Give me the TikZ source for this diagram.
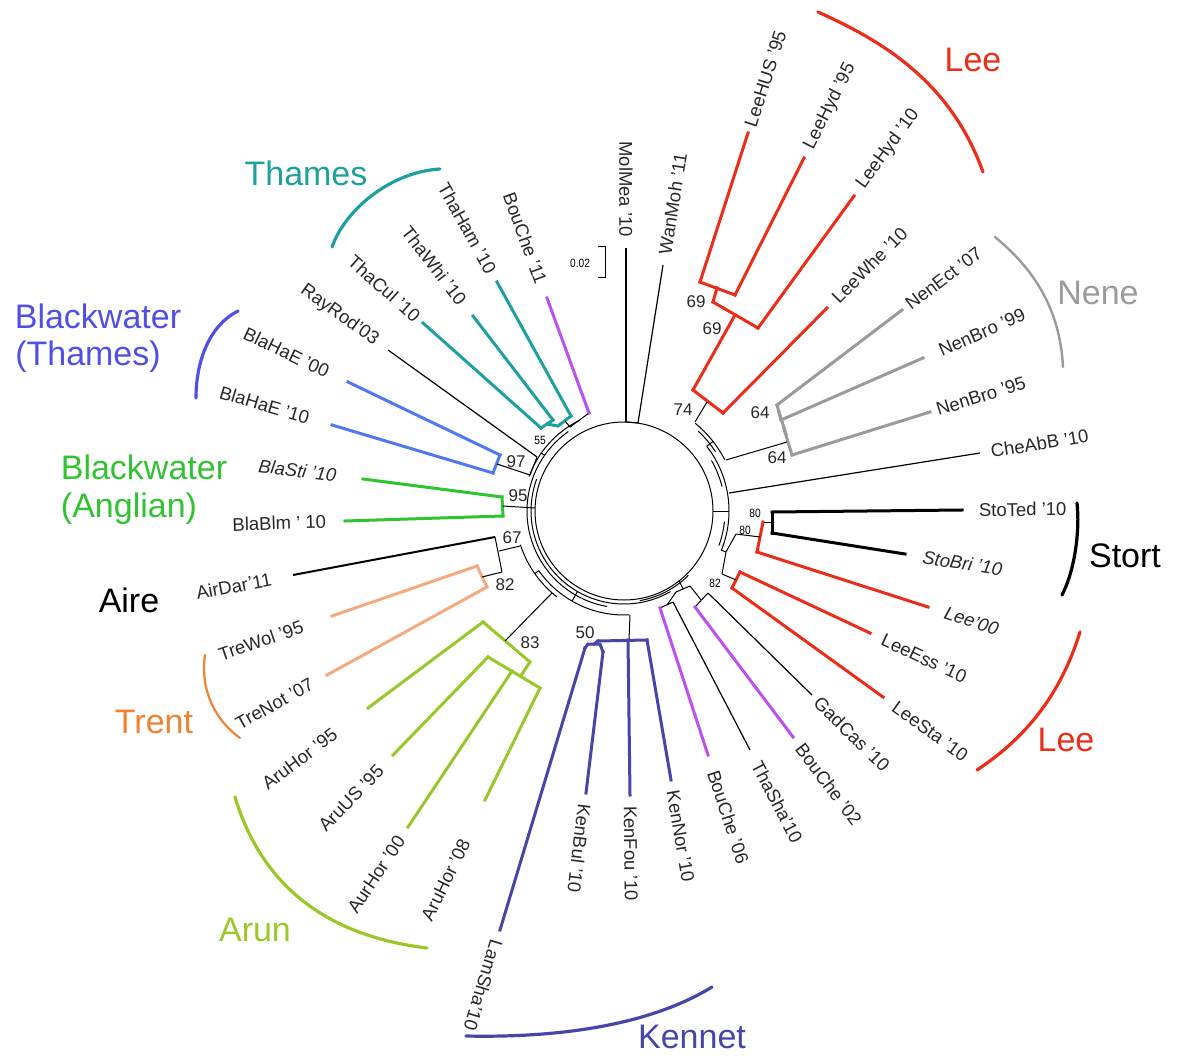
\documentclass[tikz,border=0pt]{standalone}
\usepackage{fontspec}
\setmainfont{Liberation Sans}
\begin{document}
% river clade colours
\definecolor{leeRed}{RGB}{235,45,25}
\definecolor{neneGray}{RGB}{155,155,155}
\definecolor{kenBlue}{RGB}{70,70,170}
\definecolor{bouMag}{RGB}{190,80,240}
\definecolor{arunGreen}{RGB}{155,200,40}
\definecolor{trentLine}{RGB}{245,170,130}
\definecolor{trentText}{RGB}{240,130,50}
\definecolor{anglGreen}{RGB}{50,195,50}
\definecolor{bwtLine}{RGB}{80,120,240}
\definecolor{bwtText}{RGB}{80,80,230}
\definecolor{thaTeal}{RGB}{30,160,160}
\definecolor{lblGray}{RGB}{40,40,40}
\tikzset{
  br/.style={draw=black, line width=1pt},
  thick leaf/.style={line width=3pt, line cap=rect},
  leeleaf/.style={thick leaf, draw=leeRed},
  neneleaf/.style={thick leaf, draw=neneGray},
  kenleaf/.style={thick leaf, draw=kenBlue},
  bouleaf/.style={thick leaf, draw=bouMag},
  arunleaf/.style={thick leaf, draw=arunGreen},
  trentleaf/.style={thick leaf, draw=trentLine},
  anglleaf/.style={thick leaf, draw=anglGreen},
  bwtleaf/.style={thick leaf, draw=bwtLine},
  thaleaf/.style={thick leaf, draw=thaTeal},
  stortleaf/.style={thick leaf, draw=black},
  aireleaf/.style={draw=black, line width=2pt},
  blkleaf/.style={draw=black, line width=1.2pt},
  leaflbl/.style={font=\fontsize{18.5}{20}\selectfont, text=lblGray, inner sep=1pt, outer sep=10pt},
  boot/.style={font=\fontsize{17}{19}\selectfont, text=lblGray, inner sep=0pt},
  bootsm/.style={font=\fontsize{12}{14}\selectfont, text=black, inner sep=0pt, xscale=0.85},
  cladearc/.style={line width=3.2pt, line cap=round},
  cladelbl/.style={font=\fontsize{34}{38}\selectfont, inner sep=0pt},
}
% leaf reading outward (label beyond the tip)
\newcommand{\leafR}[5][]{\draw[#2] #3 -- #4 node[leaflbl, pos=1, sloped, allow upside down, anchor=west, #1] {#5};}
% leaf reading inward (label ends at the tip)
\newcommand{\leafL}[5][]{\draw[#2] #4 -- #3 node[leaflbl, pos=0, sloped, allow upside down, anchor=east, #1] {#5};}
% arcs and radial stems about the tree centre
\newcommand{\carc}[3]{\draw[br] ([shift={(624,511)}]#2:#1) arc[start angle=#2, end angle=#3, radius=#1];}
\newcommand{\crad}[3]{\draw[br] ([shift={(624,511)}]#1:#2) -- ([shift={(624,511)}]#1:#3);}
\begin{tikzpicture}[x=1pt,y=-1pt]
\fill[white] (0,0) rectangle (1183,1056);
\useasboundingbox (0,0) rectangle (1183,1056);

% ---------- backbone ----------
\draw[br] (624,511) circle[radius=89];
\carc{93}{60}{200}
\carc{97}{100}{235}
\carc{101}{200}{244}
\crad{215}{97}{101}
\carc{104}{87}{145}
\crad{145}{104}{109}
\crad{120}{93}{104}
\carc{109}{128}{162}
\carc{91}{45}{80}
% right side
\crad{0}{89}{105}
\carc{105}{-38}{22}
\crad{-38}{105}{113}
\carc{113}{-51}{-27}
\carc{109}{-47}{-33}
\carc{101}{-30}{-14}
\carc{101}{6}{20}

% ---------- top pair ----------
\draw[br] (626,422) -- (638,423);
\leafL{blkleaf}{(626,422)}{(626,248)}{MolMea '10}
\leafR{blkleaf}{(638,423)}{(663,265)}{WanMoh '11}

% ---------- Lee (upper) ----------
\draw[leeleaf] (700,282) -- (735,295);
\draw[leeleaf] (717,288) -- (713,302);
\draw[leeleaf] (713,302) -- (758,328);
\draw[leeleaf] (735,315) -- (693,390);
\draw[leeleaf] (693,390) -- (723,413);
\draw[br] (707,402) -- (695,422);
\leafR[outer sep=6pt]{leeleaf}{(700,282)}{(748,133)}{LeeHUS '95}
\leafR{leeleaf}{(735,295)}{(804,158)}{LeeHyd '95}
\leafR{leeleaf}{(758,328)}{(854,196)}{LeeHyd '10}
\leafR{leeleaf}{(723,413)}{(827,308)}{LeeWhe '10}

% ---------- Nene ----------
\draw[neneleaf] (777,405) -- (781,420);
\draw[neneleaf] (779,412) -- (786,434);
\draw[neneleaf] (784,429) -- (792,455);
\draw[br] (787,442) -- (726,460);
\leafR[outer sep=6pt]{neneleaf}{(777,405)}{(902,310)}{NenEct '07}
\leafR[outer sep=17pt]{neneleaf}{(781,420)}{(923,358)}{NenBro '99}
\leafR[outer sep=6pt]{neneleaf}{(792,455)}{(930,412)}{NenBro '95}

\leafR{blkleaf}{(729,493)}{(980,453)}{CheAbB '10}

% ---------- Stort and lower Lee ----------
\draw[stortleaf] (772,512) -- (772,533);
\draw[br] (772,522) -- (763,522);
\draw[leeleaf] (763,522) -- (757,552);
\draw[br] (760,537) -- (736,534);
\draw[leeleaf] (740,572) -- (732,588);
\draw[br] (736,580) -- (722,574);
\draw[br] (736,534) -- (726,552) -- (722,574);
\draw[br] (726,552) -- (721,550);
\leafR[outer sep=16pt]{stortleaf}{(772,512)}{(962,510)}{StoTed '10}
\leafR[outer sep=17pt]{stortleaf}{(772,533)}{(905,554)}{\itshape StoBri '10}
\leafR[outer sep=17pt]{leeleaf}{(757,552)}{(928,607)}{\itshape Lee'00}
\leafR[outer sep=13pt]{leeleaf}{(740,572)}{(870,633)}{LeeEss '10}
\leafR[outer sep=13pt]{leeleaf}{(732,588)}{(883,697)}{LeeSta '10}

% ---------- lower right group ----------
\draw[br] (660,608) -- (673,602);
\draw[br] (695,607) -- (708,593);
\draw[br] (667,605) -- (676,592);
\draw[br] (701,600) -- (690,586);
\draw[br] (676,592) -- (690,586);
\draw[br] (683,589) -- (679,580);
\leafR[outer sep=6pt]{blkleaf}{(708,593)}{(812,695)}{GadCas '10}
\leafR{bouleaf}{(695,607)}{(793,737)}{BouChe '02}
\leafR[outer sep=13pt]{blkleaf}{(673,602)}{(750,750)}{ThaSha'10}
\leafR[outer sep=16pt]{bouleaf}{(660,608)}{(708,755)}{BouChe '06}

% ---------- Kennet ----------
\draw[kenleaf] (585,648) -- (588,644) -- (600,644) -- (603,652);
\draw[kenleaf] (594,644) -- (598,641);
\draw[kenleaf] (598,641) -- (647,640);
\draw[br] (629,640) -- (630,615);
\leafR{kenleaf}{(647,640)}{(671,780)}{KenNor '10}
\leafR{kenleaf}{(628,640)}{(630,795)}{KenFou '10}
\leafR{kenleaf}{(603,652)}{(586,793)}{KenBul '10}
\leafR{kenleaf}{(585,648)}{(500,930)}{LamSha'10}

% ---------- Arun ----------
\draw[arunleaf] (483,622) -- (530,662) -- (522,674);
\draw[arunleaf] (488,657) -- (540,688);
\draw[br] (505,641) -- (552,593);
\leafL[outer sep=44pt]{arunleaf}{(540,688)}{(485,800)}{AruHor '08}
\leafL[outer sep=12pt]{arunleaf}{(512,671)}{(408,827)}{AurHor '00}
\leafL[outer sep=17pt]{arunleaf}{(488,657)}{(393,755)}{AruUS '95}
\leafL[outer sep=40pt]{arunleaf}{(483,622)}{(368,708)}{AruHor '95}

% ---------- Trent and Aire ----------
\draw[trentleaf] (477,566) -- (487,587);
\draw[br] (482,577) -- (502,572);
\draw[br] (495,537) -- (502,572);
\draw[br] (499,551) -- (520,546);
\leafL[outer sep=16pt]{trentleaf}{(487,587)}{(327,675)}{TreNot '07}
\leafL[outer sep=30pt]{trentleaf}{(477,566)}{(332,616)}{TreWol '95}
\leafL[outer sep=21pt]{aireleaf}{(495,537)}{(293,575)}{AirDar'11}

% ---------- Blackwater (Anglian) ----------
\draw[anglleaf] (502,497) -- (503,516);
\draw[br] (503,506) -- (535,508);
\leafL[outer sep=18pt]{anglleaf}{(503,516)}{(345,521)}{BlaBlm ' 10}
\leafL[outer sep=26pt]{anglleaf}{(502,497)}{(363,479)}{\itshape BlaSti '10}

% ---------- Blackwater (Thames) ----------
\draw[bwtleaf] (500,455) -- (493,473);
\draw[br] (497,464) -- (530,475);
\draw[br] (530,475) -- (537,457);
\leafL[outer sep=23pt]{bwtleaf}{(493,473)}{(332,425)}{BlaHaE '10}
\leafL[outer sep=21pt]{bwtleaf}{(500,455)}{(348,382)}{BlaHaE '00}
\leafL[outer sep=13pt]{blkleaf}{(537,457)}{(388,350)}{RayRod'03}

% ---------- Thames ----------
\draw[thaleaf] (541,428) -- (553,420);
\draw[thaleaf] (547,424) -- (558,426) -- (571,416);
\draw[br] (565,421) -- (570,427) -- (589,413);
\leafL[outer sep=6pt]{thaleaf}{(541,428)}{(423,323)}{ThaCul '10}
\leafL[outer sep=16pt]{thaleaf}{(553,420)}{(473,316)}{ThaWhi '10}
\leafL{thaleaf}{(571,416)}{(497,282)}{ThaHam '10}
\leafL[outer sep=15pt]{bouleaf}{(589,413)}{(547,298)}{BouChe '11}

% ---------- support values ----------
\node[boot] at (696,302) {69};
\node[boot] at (712,329) {69};
\node[boot] at (683,410) {74};
\node[boot] at (760,413) {64};
\node[boot] at (777,458) {64};
\node[boot] at (516,462) {97};
\node[boot] at (518,496) {95};
\node[boot] at (512,538) {67};
\node[boot] at (505,585) {82};
\node[boot] at (530,643) {83};
\node[boot] at (585,633) {50};
\node[bootsm] at (540,440) {55};
\node[bootsm] at (755,513) {80};
\node[bootsm] at (745,530) {80};
\node[bootsm] at (715,583) {82};

% ---------- scale bar ----------
\draw[br] (598,247) -- (605,247) -- (605,278) -- (598,278);
\node[bootsm] at (580,263) {0.02};

% ---------- clade brackets and names ----------
\draw[cladearc, leeRed] (818,12) .. controls (880,40) and (950,80) .. (983,172);
\node[cladelbl, text=leeRed] at (973,60) {Lee};
\draw[cladearc, neneGray, line width=2.4pt] (995,237) .. controls (1035,270) and (1060,310) .. (1063,367);
\node[cladelbl, text=neneGray] at (1098,293) {Nene};
\draw[cladearc, black] (1077,503) .. controls (1080,530) and (1075,570) .. (1062,595);
\node[cladelbl, text=black] at (1125,556) {Stort};
\draw[cladearc, leeRed] (1080,632) .. controls (1062,690) and (1030,735) .. (977,770);
\node[cladelbl, text=leeRed] at (1066,740) {Lee};
\draw[cladearc, kenBlue] (466,1036) .. controls (560,1038) and (650,1025) .. (712,987);
\node[cladelbl, text=kenBlue] at (692,1037) {Kennet};
\draw[cladearc, arunGreen] (235,797) .. controls (260,880) and (320,935) .. (427,948);
\node[cladelbl, text=arunGreen] at (255,930) {Arun};
\draw[cladearc, trentText, line width=2.2pt] (205,655) .. controls (200,690) and (215,720) .. (240,738);
\node[cladelbl, text=trentText] at (154,722) {Trent};
\node[cladelbl, text=black] at (129,600) {Aire};
\node[cladelbl, text=anglGreen] at (144,467) {Blackwater};
\node[cladelbl, text=anglGreen] at (129,509) {(Anglian)};
\draw[cladearc, bwtText] (238,311) .. controls (210,325) and (196,360) .. (196,398);
\node[cladelbl, text=bwtText] at (98,316) {Blackwater};
\node[cladelbl, text=bwtText] at (88,357) {(Thames)};
\draw[cladearc, thaTeal] (440,169) .. controls (390,172) and (345,210) .. (332,247);
\node[cladelbl, text=thaTeal] at (306,173) {Thames};
\end{tikzpicture}
\end{document}
